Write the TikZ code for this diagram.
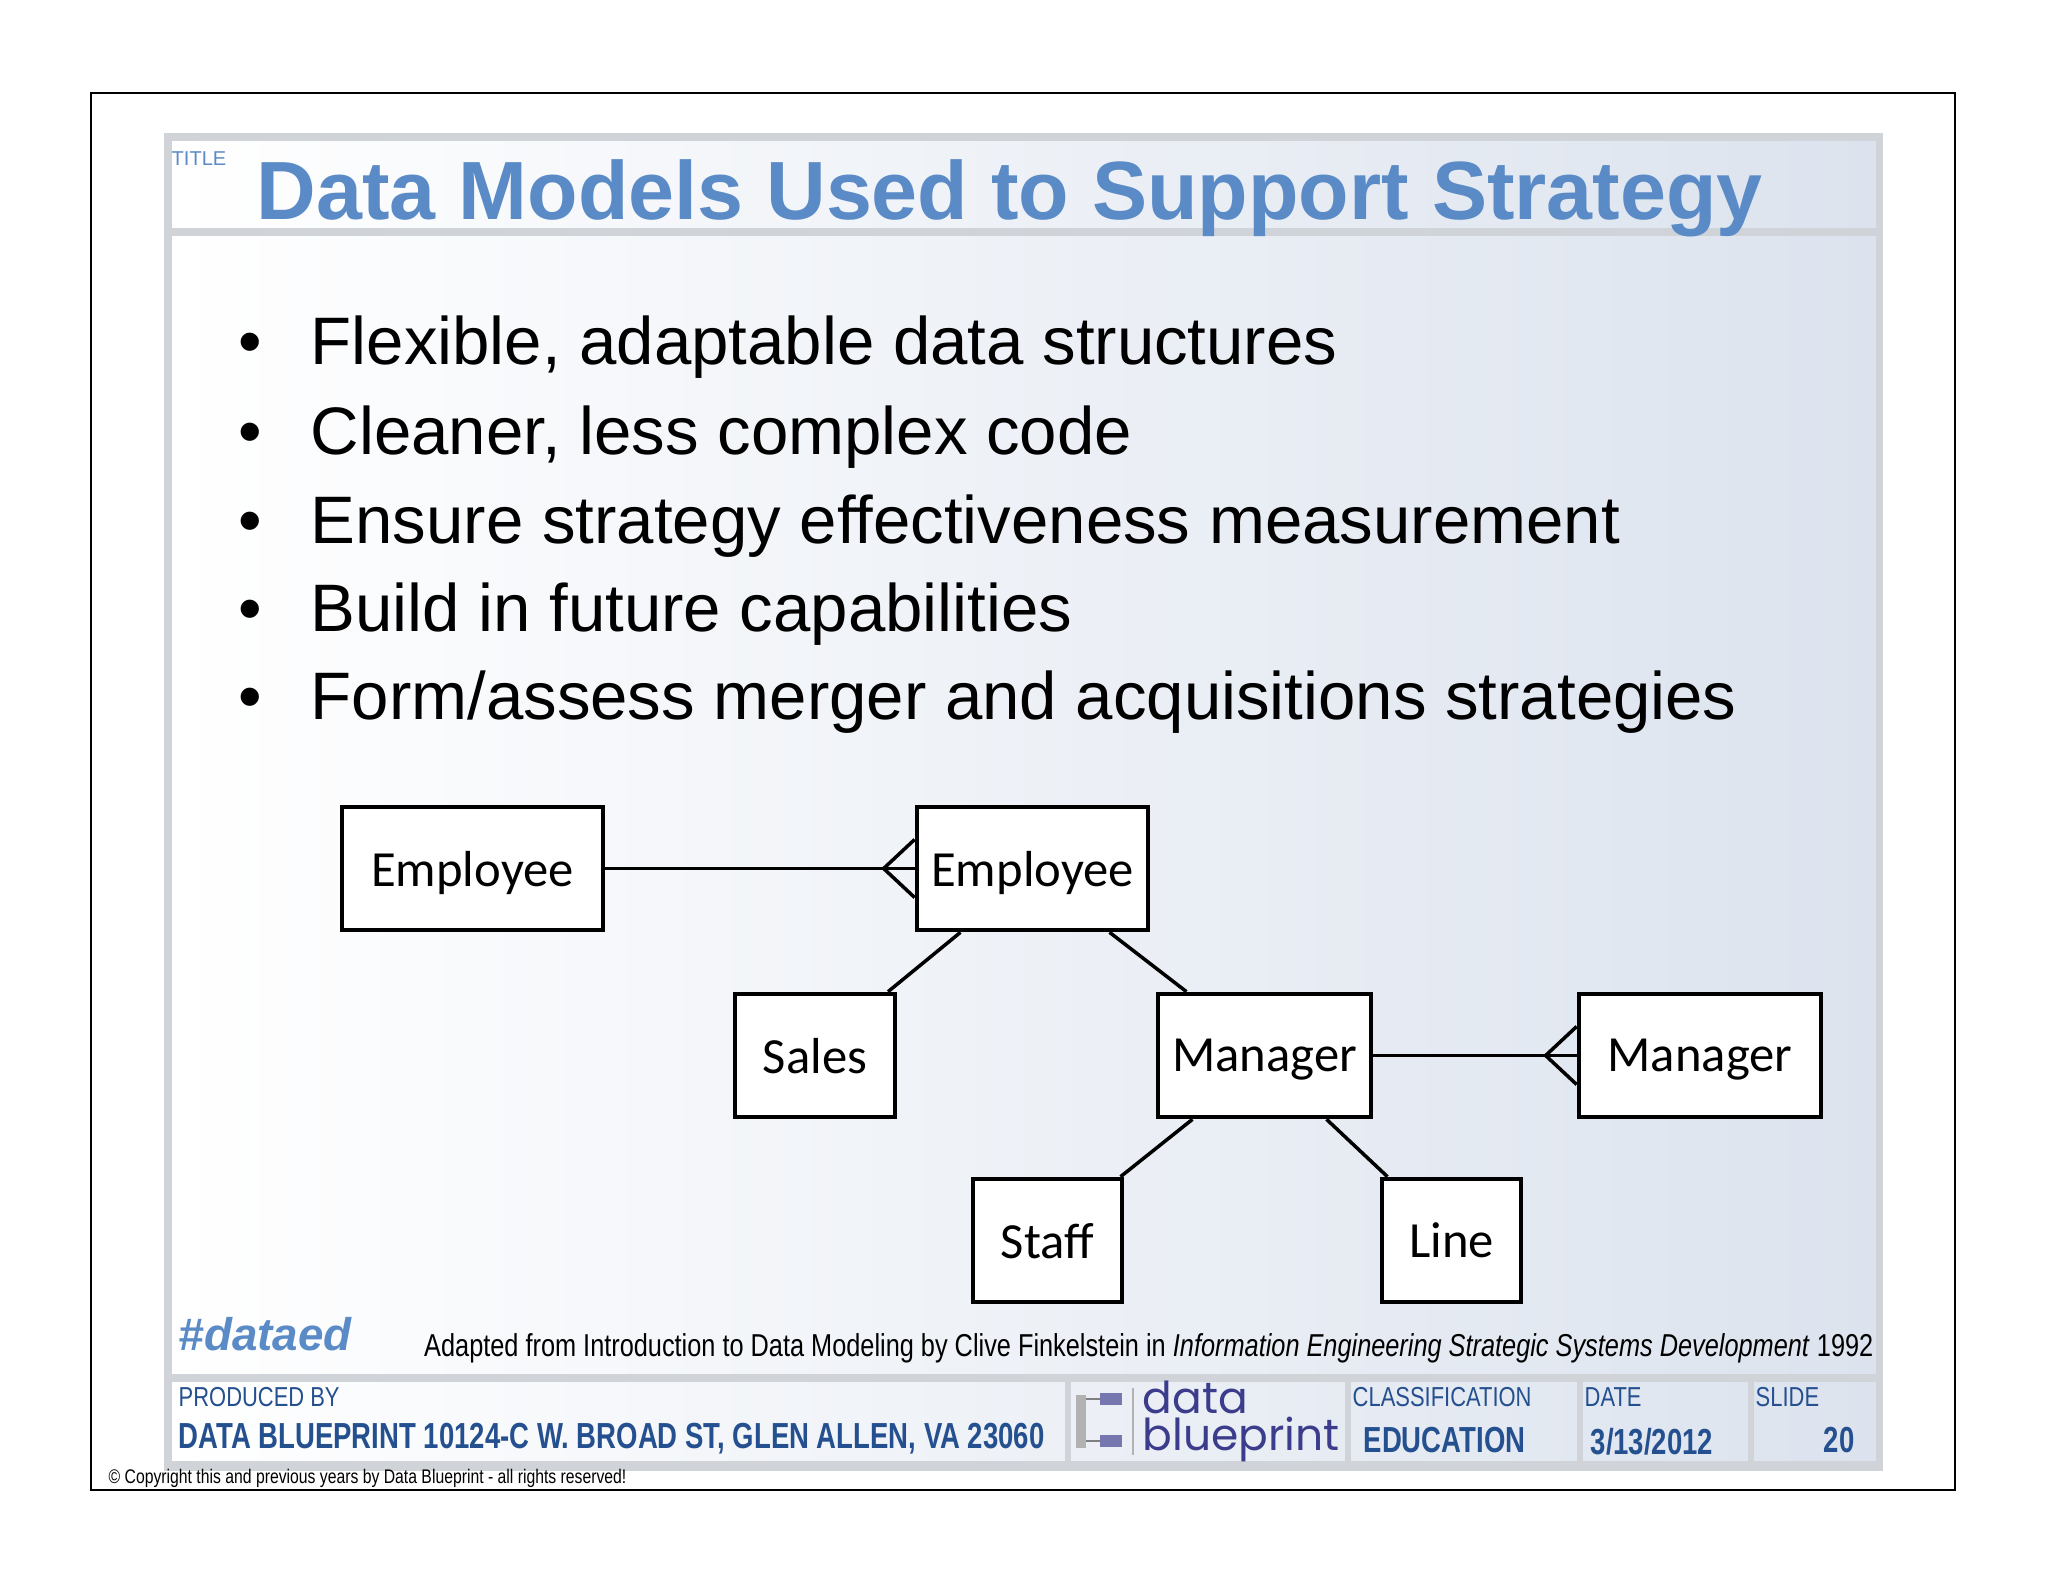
\documentclass[tikz,border=0pt]{standalone}
\usepackage{fontspec}
\setmainfont{Liberation Sans}
\newfontfamily\calfont{Carlito}
\newfontfamily\narrow[FakeStretch=0.8]{Liberation Sans}
\newfontfamily\narrowb[FakeStretch=0.76]{Liberation Sans Bold}
\newfontfamily\logofont{Poppins}
\definecolor{titleblue}{HTML}{5B8BC6}
\definecolor{footblue}{HTML}{25508F}
\definecolor{panelgray}{HTML}{D0D3D8}
\definecolor{panelblue}{HTML}{DCE3EE}
\definecolor{logopurple}{HTML}{3B3D8C}
\begin{document}
\begin{tikzpicture}[x=0.01cm,y=-0.01cm,
  ent/.style={draw,line width=1.3pt,fill=white,inner sep=0pt,text depth=0pt,minimum height=1.23cm,font=\calfont\fontsize{14.4}{16}\selectfont},
  rel/.style={line width=1pt},
  lab/.style={anchor=base west,inner sep=0pt,text=footblue,font=\narrow\fontsize{7.8}{9}\selectfont},
  val/.style={anchor=base west,inner sep=0pt,text=footblue,font=\narrowb\fontsize{10.3}{12}\selectfont},
  bul/.style={anchor=base west,inner sep=0pt,font=\fontsize{19.1}{22}\selectfont}]
\useasboundingbox (0,0) rectangle (2048,1582);
\fill[white] (0,0) rectangle (2048,1582);
\draw[line width=0.8pt] (91,93) rectangle (1955,1490);
% panel
\shade[left color=white,right color=panelblue] (168,137) rectangle (1879,1467);
\draw[panelgray,line width=2pt] (168,137) rectangle (1879,1467);
\draw[panelgray,line width=2pt] (168,232) -- (1879,232);
\node[anchor=base west,inner sep=0pt,font=\fontsize{5.7}{6}\selectfont,text=titleblue] (tl) at (171,166) {TITLE};
\node[anchor=base west,inner sep=0pt,font=\bfseries\fontsize{23.5}{28}\selectfont,text=titleblue] (title) at (256,220) {Data Models Used to Support Strategy};
% bullets
\foreach \y/\t in {364/{Flexible, adaptable data structures},454/{Cleaner, less complex code},543/{Ensure strategy effectiveness measurement},631/{Build in future capabilities},719/{Form/assess merger and acquisitions strategies}}{
  \node[bul] at (238,\y) {\textbullet};
  \node[bul] at (310,\y) {\t};
}
% ER
\node[ent,minimum width=2.61cm] (e1) at (472.5,868.5) {Employee};
\node[ent,minimum width=2.31cm] (e2) at (1032.5,868.5) {Employee};
\node[ent,minimum width=1.60cm] (sa) at (815,1055.5) {Sales};
\node[ent,minimum width=2.13cm] (m1) at (1264.5,1055.5) {Manager};
\node[ent,minimum width=2.42cm] (m2) at (1700,1055.5) {Manager};
\node[ent,minimum width=1.49cm] (st) at (1047.5,1240.5) {Staff};
\node[ent,minimum width=1.39cm] (li) at (1451.5,1240.5) {Line};
\draw[rel] (e1.east) -- (e2.west);
\coordinate (c1) at ([xshift=-0.31cm]e2.west);
\draw[rel] ([yshift=0.29cm]e2.west) -- (c1) -- ([yshift=-0.29cm]e2.west);
\draw[rel] (m1.east) -- (m2.west);
\coordinate (c2) at ([xshift=-0.31cm]m2.west);
\draw[rel] ([yshift=0.29cm]m2.west) -- (c2) -- ([yshift=-0.29cm]m2.west);
\draw[rel] ([xshift=-0.72cm]e2.south) -- ([xshift=0.73cm]sa.north);
\draw[rel] ([xshift=0.77cm]e2.south) -- ([xshift=-0.78cm]m1.north);
\draw[rel] ([xshift=-0.72cm]m1.south) -- ([xshift=0.73cm]st.north);
\draw[rel] ([xshift=0.62cm]m1.south) -- ([xshift=-0.64cm]li.north);
% footer
\node[anchor=base west,inner sep=0pt,text=titleblue,font=\bfseries\itshape\fontsize{13}{15}\selectfont] (tag) at (178,1350) {\#dataed};
\node[anchor=base east,inner sep=0pt,font=\narrow\fontsize{9}{10}\selectfont] (cite) at (1874,1356) {Adapted from Introduction to Data Modeling by Clive Finkelstein in \textit{Information Engineering Strategic Systems Development} 1992};
\draw[panelgray,line width=2pt] (168,1378) rectangle (1879,1465);
\foreach \x in {1068,1348,1580,1751} \draw[panelgray,line width=1.5pt] (\x,1378) -- (\x,1465);
\node[lab] at (178,1406) {PRODUCED BY};
\node[val] at (178,1448) {DATA BLUEPRINT 10124-C W. BROAD ST, GLEN ALLEN, VA 23060};
\node[lab] at (1352,1406) {CLASSIFICATION};
\node[val] at (1363,1452) {EDUCATION};
\node[lab] at (1584,1406) {DATE};
\node[val] at (1590,1454) {3/13/2012};
\node[lab] at (1755,1406) {SLIDE};
\node[val,anchor=base east] at (1855,1452) {20};
% logo
\fill[gray!60] (1076,1395) rectangle (1086,1448);
\fill[logopurple!70] (1100,1393) rectangle (1122,1405);
\fill[logopurple!70] (1100,1435) rectangle (1122,1447);
\draw[gray] (1086,1399) -- (1100,1399) (1086,1441) -- (1100,1441);
\draw[gray!60] (1133,1388) -- (1133,1455);
\node[anchor=base west,inner sep=0pt,text=logopurple,font=\logofont\fontsize{12.5}{13}\selectfont] (l1) at (1142,1413) {data};
\node[anchor=base west,inner sep=0pt,text=logopurple,font=\logofont\fontsize{12.5}{13}\selectfont] (l2) at (1142,1450) {blueprint};
\node[anchor=base west,inner sep=0pt,font=\narrow\fontsize{5.6}{6}\selectfont] (copy) at (108,1483) {\textcopyright{} Copyright this and previous years by Data Blueprint  - all rights reserved!};
\end{tikzpicture}
\end{document}
